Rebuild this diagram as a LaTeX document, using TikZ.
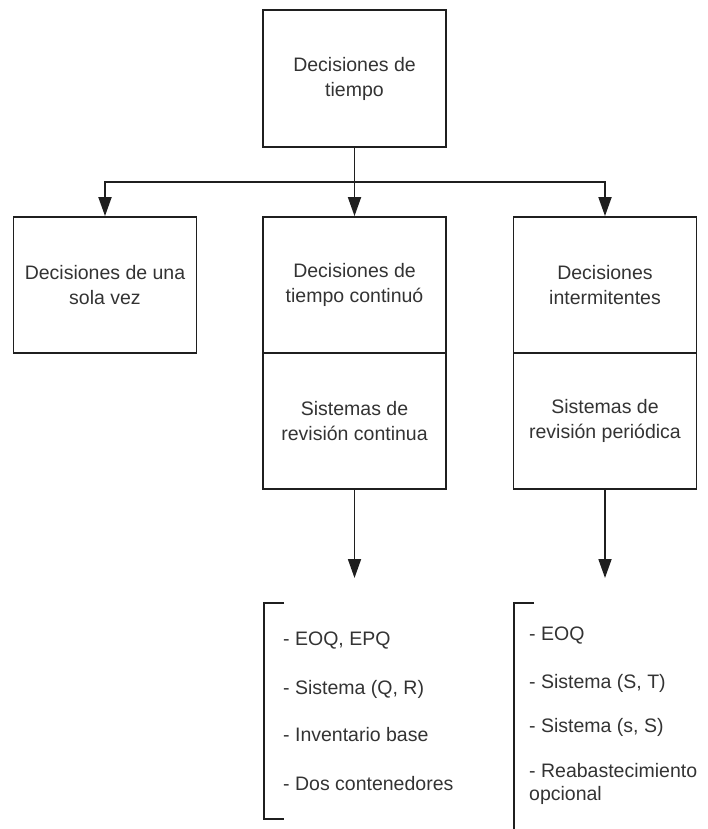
\documentclass[tikz,border=0pt]{standalone}
\usepackage{fontspec}
\setmainfont{Liberation Sans}
\usetikzlibrary{arrows.meta}
\begin{document}
\begin{tikzpicture}[x=1pt,y=-1pt,
  box/.style={draw=black!88, line width=1.8pt, minimum width=183pt, minimum height=136pt,
    inner sep=0pt, align=center, font=\fontsize{19.5}{25}\selectfont, text=black!80},
  arr/.style={draw=black!88, line width=1.8pt, -{Triangle[length=19pt,width=13pt]}},
  brk/.style={draw=black!88, line width=1.8pt},
  item/.style={anchor=base west, inner sep=0pt, font=\fontsize{19.5}{23}\selectfont, text=black!80, align=left}]
\useasboundingbox (0,0) rectangle (707,829);
% boxes
\node[box, minimum height=137pt] (top) at (354.5,78.5) {Decisiones de\\tiempo};
\node[box] (lbox) at (105,285) {Decisiones de una\\sola vez};
\node[box] (mtop) at (354.5,285) {Decisiones de\\tiempo continuó};
\node[box] (mbot) at (354.5,421) {Sistemas de\\revisión continua};
\node[box] (rtop) at (605,285) {Decisiones\\intermitentes};
\node[box] (rbot) at (605,421) {Sistemas de\\revisión periódica};
% connectors
\coordinate (hy) at (354.5,182);
\draw[arr] (top.south) -- (hy) -| (lbox.north);
\draw[arr] (hy) -- (mtop.north);
\draw[arr] (hy) -| (rtop.north);
\coordinate (mend) at (354.5,578);
\coordinate (rend) at (605,578);
\draw[arr] (mbot.south) -- (mend);
\draw[arr] (rbot.south) -- (rend);
% brackets
\draw[brk] (284,603) -- (264,603) -- (264,819) -- (284,819);
\draw[brk] (534,603) -- (514,603) -- (514,830);
% lists
\node[item] (l1) at (283,645) {- EOQ, EPQ};
\node[item] (l2) at (283,694) {- Sistema (Q, R)};
\node[item] (l3) at (283,741) {- Inventario base};
\node[item] (l4) at (283,790) {- Dos contenedores};
\node[item] (r1) at (529,640) {- EOQ};
\node[item] (r2) at (529,688) {- Sistema (S, T)};
\node[item] (r3) at (529,732) {- Sistema (s, S)};
\node[item] (r4) at (529,777) {- Reabastecimiento};
\node[item] (r5) at (529,800) {opcional};
\end{tikzpicture}
\end{document}
